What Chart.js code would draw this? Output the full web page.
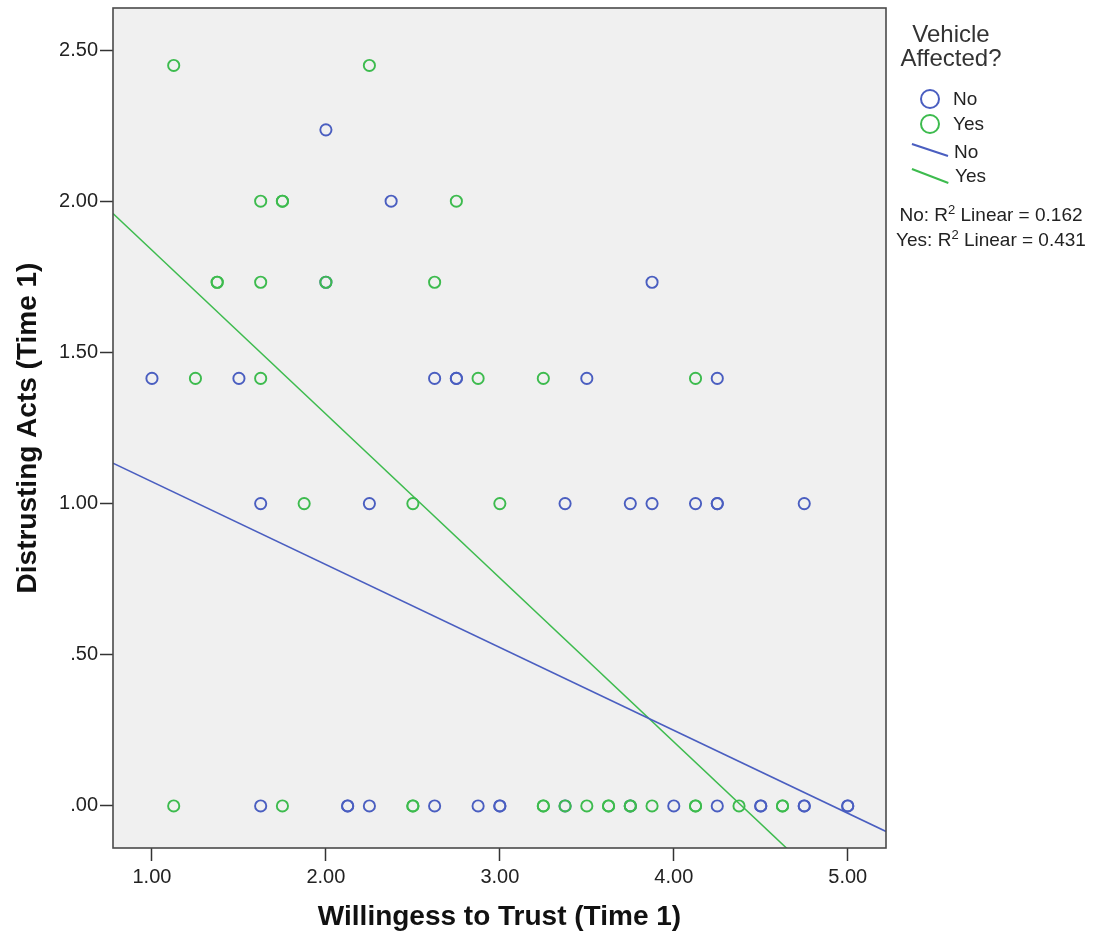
<!DOCTYPE html>
<html>
<head>
<meta charset="utf-8">
<script src="https://cdn.jsdelivr.net/npm/chart.js@4.4.1/dist/chart.umd.min.js"></script>
<style>
  body { margin: 0; background: #fff; font-family: "Liberation Sans", Arial, sans-serif; }
  #wrap { position: relative; width: 1118px; height: 941px; }
  .lg { position: absolute; color: #222; white-space: nowrap; }
  .circ { position: absolute; width: 16px; height: 16px; border-radius: 50%; border: 2px solid; }
  .seg { position: absolute; height: 1.6px; transform-origin: 0 50%; }
</style>
</head>
<body>
<div id="wrap">
  <canvas id="scatter" width="1118" height="941"></canvas>

  <div class="lg" style="left:851px; top:22px; width:200px; text-align:center; font-size:24px; line-height:24px; color:#333;">Vehicle<br>Affected?</div>

  <div class="circ" style="left:920px; top:89px; border-color:#4a5ec0;"></div>
  <div class="lg" style="left:953px; top:88px; font-size:19px; line-height:22px;">No</div>
  <div class="circ" style="left:920px; top:114px; border-color:#3dbb4e;"></div>
  <div class="lg" style="left:953px; top:113px; font-size:19px; line-height:22px;">Yes</div>

  <div class="seg" style="left:912px; top:143px; width:38px; background:#4a5ec0; transform:rotate(18.4deg);"></div>
  <div class="lg" style="left:954px; top:141px; font-size:19px; line-height:22px;">No</div>
  <div class="seg" style="left:912px; top:168px; width:39px; background:#3dbb4e; transform:rotate(21deg);"></div>
  <div class="lg" style="left:955px; top:165px; font-size:19px; line-height:22px;">Yes</div>

  <div class="lg" style="left:891px; top:203px; width:200px; text-align:center; font-size:19px; line-height:24px;">No: R<sup style="font-size:13px; line-height:0;">2</sup> Linear = 0.162</div>
  <div class="lg" style="left:891px; top:228px; width:200px; text-align:center; font-size:19px; line-height:24px;">Yes: R<sup style="font-size:13px; line-height:0;">2</sup> Linear = 0.431</div>
</div>

<script>
// Distrusting acts (square-root scale) vs willingness to trust, by group
const noX  = [2.00, 2.375, 2.00, 3.875,
              1.00, 1.50, 2.625, 2.75, 2.75, 3.50, 4.25,
              1.625, 2.25, 3.375, 3.75, 3.875, 4.125, 4.25, 4.25, 4.75,
              1.625, 2.125, 2.125, 2.25, 2.625, 2.875, 3.00, 3.00, 3.375, 3.75, 4.00, 4.25, 4.50, 4.50, 4.75, 4.75, 5.00, 5.00];
const noY  = [2.236, 2.00, 1.732, 1.732,
              1.414, 1.414, 1.414, 1.414, 1.414, 1.414, 1.414,
              1.00, 1.00, 1.00, 1.00, 1.00, 1.00, 1.00, 1.00, 1.00,
              0, 0, 0, 0, 0, 0, 0, 0, 0, 0, 0, 0, 0, 0, 0, 0, 0, 0];

const yesX = [1.125, 2.25,
              1.625, 1.75, 1.75, 2.75,
              1.375, 1.375, 1.625, 2.00, 2.625,
              1.25, 1.625, 2.875, 3.25, 4.125,
              1.875, 2.50, 3.00,
              1.125, 1.75, 2.50, 2.50, 3.25, 3.25, 3.375, 3.50, 3.625, 3.625, 3.75, 3.75, 3.875, 4.125, 4.125, 4.375, 4.625, 4.625];
const yesY = [2.449, 2.449,
              2.00, 2.00, 2.00, 2.00,
              1.732, 1.732, 1.732, 1.732, 1.732,
              1.414, 1.414, 1.414, 1.414, 1.414,
              1.00, 1.00, 1.00,
              0, 0, 0, 0, 0, 0, 0, 0, 0, 0, 0, 0, 0, 0, 0, 0, 0, 0];

// linear fit lines
const noFit  = { intercept: 1.346, slope: -0.274 };
const yesFit = { intercept: 2.380, slope: -0.542 };

const xRange = [0.776, 5.22];
const yRange = [-0.139, 2.639];
const xTicks = [1, 2, 3, 4, 5];
const yTicks = [0, 0.5, 1, 1.5, 2, 2.5];

const blue = "#4a5ec0";
const green = "#3dbb4e";

const toPoints = (xs, ys) => xs.map((x, i) => ({ x: x, y: ys[i] }));
const fitLine = f => xRange.map(x => ({ x: x, y: f.intercept + f.slope * x }));

const frame = {
  id: "frame",
  beforeDatasetsDraw(chart) {
    const a = chart.chartArea, ctx = chart.ctx;
    ctx.save();
    ctx.fillStyle = "#f0f0f0";
    ctx.fillRect(a.left, a.top, a.right - a.left, a.bottom - a.top);
    ctx.restore();
  },
  afterDatasetsDraw(chart) {
    const a = chart.chartArea, ctx = chart.ctx;
    ctx.save();
    ctx.strokeStyle = "#4a4a4a";
    ctx.lineWidth = 1.6;
    ctx.strokeRect(a.left, a.top, a.right - a.left, a.bottom - a.top);
    ctx.restore();
  }
};

new Chart(document.getElementById("scatter"), {
  type: "scatter",
  data: {
    datasets: [
      {
        label: "No",
        data: toPoints(noX, noY),
        borderColor: blue,
        backgroundColor: "rgba(0,0,0,0)",
        pointRadius: 5.6,
        borderWidth: 1.9,
        order: 2
      },
      {
        label: "Yes",
        data: toPoints(yesX, yesY),
        borderColor: green,
        backgroundColor: "rgba(0,0,0,0)",
        pointRadius: 5.6,
        borderWidth: 1.9,
        order: 1
      },
      {
        type: "line",
        label: "No fit",
        data: fitLine(noFit),
        borderColor: blue,
        borderWidth: 1.5,
        pointRadius: 0,
        fill: false,
        order: 0
      },
      {
        type: "line",
        label: "Yes fit",
        data: fitLine(yesFit),
        borderColor: green,
        borderWidth: 1.5,
        pointRadius: 0,
        fill: false,
        order: 0
      }
    ]
  },
  options: {
    responsive: false,
    animation: false,
    layout: { padding: { top: 8, right: 232, left: 0, bottom: 0 } },
    plugins: { legend: { display: false }, tooltip: { enabled: false } },
    scales: {
      x: {
        type: "linear",
        min: xRange[0],
        max: xRange[1],
        afterBuildTicks: s => { s.ticks = xTicks.map(v => ({ value: v })); },
        afterFit: s => { s.height = 93; s.paddingLeft = 0; s.paddingRight = 0; },
        grid: { drawOnChartArea: false, drawTicks: true, tickLength: 13, color: "#333", tickWidth: 1.5 },
        border: { display: false },
        ticks: {
          color: "#222",
          padding: 4,
          font: { family: "Liberation Sans", size: 20 },
          callback: v => v.toFixed(2)
        },
        title: {
          display: true,
          text: "Willingess to Trust (Time 1)",
          color: "#111",
          font: { family: "Liberation Sans", size: 28, weight: "bold" },
          padding: { top: 0, bottom: 7 }
        }
      },
      y: {
        type: "linear",
        min: yRange[0],
        max: yRange[1],
        afterBuildTicks: s => { s.ticks = yTicks.map(v => ({ value: v })); },
        afterFit: s => { s.width = 113; s.paddingTop = 0; s.paddingBottom = 0; },
        grid: { drawOnChartArea: false, drawTicks: true, tickLength: 13, color: "#333", tickWidth: 1.5 },
        border: { display: false },
        ticks: {
          color: "#222",
          padding: 2,
          font: { family: "Liberation Sans", size: 20 },
          callback: v => v.toFixed(2).replace(/^0/, "")
        },
        title: {
          display: true,
          text: "Distrusting Acts (Time 1)",
          color: "#111",
          font: { family: "Liberation Sans", size: 28, weight: "bold" },
          padding: { top: 11, bottom: 0 }
        }
      }
    }
  },
  plugins: [frame]
});
</script>
</body>
</html>
